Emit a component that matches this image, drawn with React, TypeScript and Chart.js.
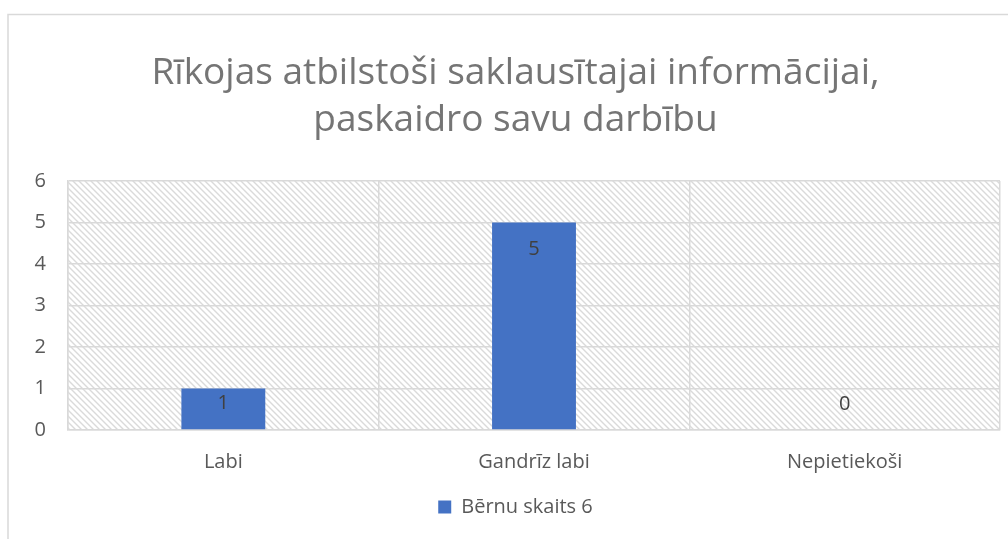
import React, { useEffect, useRef } from "react";
import { Chart, registerables } from "chart.js";

Chart.register(...registerables);

const categories = ["Labi", "Gandrīz labi", "Nepietiekoši"];
const values = [1, 5, 0];
const seriesName = "Bērnu skaits 6";
const titleLines = ["Rīkojas atbilstoši saklausītajai informācijai,", "paskaidro savu darbību"];
const yTicks = [0, 1, 2, 3, 4, 5, 6];

const FONT = "'Open Sans', 'Noto Sans', sans-serif";

function makePattern(): CanvasPattern | string {
  const p = 6;
  const c = document.createElement("canvas");
  c.width = p;
  c.height = p;
  const g = c.getContext("2d");
  if (!g) return "#fff";
  g.fillStyle = "#ffffff";
  g.fillRect(0, 0, p, p);
  g.strokeStyle = "#dadada";
  g.lineWidth = 1.4;
  g.beginPath();
  g.moveTo(-1, -1);
  g.lineTo(p + 1, p + 1);
  g.moveTo(-1, p - 1);
  g.lineTo(1, p + 1);
  g.moveTo(p - 1, -1);
  g.lineTo(p + 1, 1);
  g.stroke();
  const pat = g.createPattern(c, "repeat");
  return pat || "#fff";
}

const backgroundPlugin = {
  id: "bgPlugin",
  beforeDraw(chart: any) {
    const { ctx, chartArea } = chart;
    ctx.save();
    ctx.fillStyle = "#ffffff";
    ctx.fillRect(0, 0, chart.width, chart.height);
    ctx.strokeStyle = "#d9d9d9";
    ctx.lineWidth = 1.5;
    ctx.strokeRect(8, 14.5, chart.width + 20, chart.height + 20);
    ctx.fillStyle = makePattern();
    ctx.fillRect(chartArea.left, chartArea.top, chartArea.right - chartArea.left, chartArea.bottom - chartArea.top);
    ctx.restore();
  },
};

const labelPlugin = {
  id: "labelPlugin",
  afterDatasetsDraw(chart: any) {
    const { ctx } = chart;
    const meta = chart.getDatasetMeta(0);
    ctx.save();
    ctx.fillStyle = "#404040";
    ctx.font = `20px ${FONT}`;
    ctx.textAlign = "center";
    ctx.textBaseline = "middle";
    meta.data.forEach((el: any, i: number) => {
      const y = Math.min(el.y + 27, el.base - 26);
      ctx.fillText(String(values[i]), el.x, y);
    });
    ctx.restore();
  },
};

export default function App() {
  const ref = useRef<HTMLCanvasElement | null>(null);
  useEffect(() => {
    if (!ref.current) return;
    const chart = new Chart(ref.current, {
      type: "bar",
      data: {
        labels: categories,
        datasets: [
          {
            label: seriesName,
            data: values,
            backgroundColor: "#4472C4",
            categoryPercentage: 1,
            barPercentage: 0.27,
          },
        ],
      },
      options: {
        animation: false,
        responsive: false,
        layout: { padding: { left: 31, right: 8, top: 0, bottom: 12 } },
        plugins: {
          title: {
            display: true,
            text: titleLines,
            color: "#757575",
            font: { family: FONT, size: 37, weight: "normal", lineHeight: 1.27 },
            padding: { top: 50, bottom: 37 },
          },
          legend: {
            display: true,
            position: "bottom",
            labels: {
              boxWidth: 13,
              boxHeight: 13,
              color: "#595959",
              font: { family: FONT, size: 20 },
              padding: 10,
            },
          },
          tooltip: { enabled: false },
        },
        scales: {
          x: {
            grid: { color: "#d9d9d9", lineWidth: 1.5, offset: true, drawTicks: false },
            border: { color: "#d9d9d9", width: 1.5 },
            ticks: { color: "#595959", font: { family: FONT, size: 20 }, padding: 20 },
            afterFit(scale: any) {
              scale.height = 57;
            },
          },
          y: {
            min: 0,
            max: 6,
            grid: { color: "#d9d9d9", lineWidth: 1.5, drawTicks: false },
            border: { color: "#d9d9d9", width: 1.5 },
            ticks: {
              stepSize: 1,
              color: "#595959",
              font: { family: FONT, size: 20 },
              padding: 22,
              callback: (v: any) => (yTicks.includes(Number(v)) ? String(v) : ""),
            },
            afterFit(scale: any) {
              scale.width = 37;
            },
          },
        },
      },
      plugins: [backgroundPlugin, labelPlugin],
    });
    return () => chart.destroy();
  }, []);
  return (
    <div style={{ position: "absolute", left: 0, top: 0, width: 1008, height: 539 }}>
      <canvas ref={ref} width={1008} height={539} />
    </div>
  );
}
